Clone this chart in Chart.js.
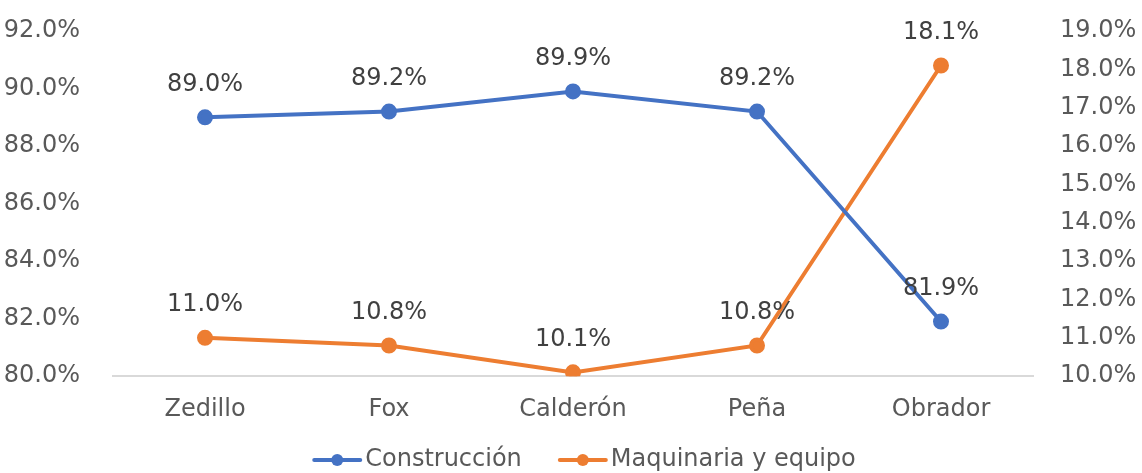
<!DOCTYPE html>
<html>
<head>
<meta charset="utf-8">
<script src="https://cdn.jsdelivr.net/npm/chart.js@4/dist/chart.umd.min.js"></script>
<style>
    body { margin: 0; background: #ffffff; }
    #contenedor { width: 1142px; height: 473px; }
</style>
</head>
<body>
<div id="contenedor">
    <canvas id="grafica" width="1142" height="473"></canvas>
</div>
<script>
const categorias = ['Zedillo', 'Fox', 'Calderón', 'Peña', 'Obrador'];
const construccion = [89.0, 89.2, 89.9, 89.2, 81.9];
const maquinaria = [11.0, 10.8, 10.1, 10.8, 18.1];

const azul = '#4472c4';
const naranja = '#ed7d31';
const fuente = 'DejaVu Sans';
const tam = 24;

Chart.defaults.font.family = fuente;
Chart.defaults.font.size = tam;

// etiquetas de datos arriba de cada punto
const etiquetas = {
    id: 'etiquetas',
    afterDatasetsDraw(chart) {
        const ctx = chart.ctx;
        ctx.save();
        ctx.font = tam + 'px "' + fuente + '"';
        ctx.fillStyle = '#404040';
        ctx.textAlign = 'center';
        ctx.textBaseline = 'middle';
        chart.data.datasets.forEach((ds, i) => {
            chart.getDatasetMeta(i).data.forEach((p, j) => {
                ctx.fillText(ds.data[j].toFixed(1) + '%', p.x, p.y - 33);
            });
        });
        ctx.restore();
    }
};

// leyenda tipo excel: linea con circulo + texto
const leyenda = {
    id: 'leyenda',
    afterDraw(chart) {
        const ctx = chart.ctx;
        const y = 460;
        ctx.save();
        ctx.font = tam + 'px "' + fuente + '"';
        ctx.textBaseline = 'middle';
        ctx.textAlign = 'left';

        const items = chart.data.datasets.map(ds => ({
            texto: ds.label,
            color: ds.borderColor,
            ancho: 50 + 3 + ctx.measureText(ds.label).width
        }));
        const total = items.reduce((s, it) => s + it.ancho, 0) + 36 * (items.length - 1);
        let x = 584 - total / 2;

        items.forEach(it => {
            ctx.strokeStyle = it.color;
            ctx.lineWidth = 4;
            ctx.lineCap = 'round';
            ctx.beginPath();
            ctx.moveTo(x + 2, y);
            ctx.lineTo(x + 48, y);
            ctx.stroke();
            ctx.fillStyle = it.color;
            ctx.beginPath();
            ctx.arc(x + 25, y, 6, 0, Math.PI * 2);
            ctx.fill();
            ctx.fillStyle = '#595959';
            ctx.fillText(it.texto, x + 53, y);
            x += it.ancho + 36;
        });
        ctx.restore();
    }
};

function sinRelleno(axis) {
    axis.paddingTop = 0;
    axis.paddingBottom = 0;
}

new Chart(document.getElementById('grafica'), {
    type: 'line',
    data: {
        labels: categorias,
        datasets: [{
            label: 'Construcción',
            data: construccion,
            yAxisID: 'y',
            borderColor: azul,
            backgroundColor: azul,
            borderWidth: 4,
            pointRadius: 6,
            pointStyle: 'circle',
            tension: 0
        }, {
            label: 'Maquinaria y equipo',
            data: maquinaria,
            yAxisID: 'y1',
            borderColor: naranja,
            backgroundColor: naranja,
            borderWidth: 4,
            pointRadius: 6,
            pointStyle: 'circle',
            tension: 0
        }]
    },
    options: {
        responsive: false,
        animation: false,
        layout: {
            padding: { top: 31, bottom: 30, left: 0, right: 0 }
        },
        scales: {
            x: {
                offset: true,
                grid: { display: false, drawTicks: false },
                border: { display: true, color: '#d9d9d9', width: 2 },
                ticks: {
                    color: '#595959',
                    padding: 19
                }
            },
            y: {
                position: 'left',
                min: 80,
                max: 92,
                grid: { display: false },
                border: { display: false },
                afterFit(axis) {
                    axis.width = 113;
                    sinRelleno(axis);
                },
                ticks: {
                    stepSize: 2,
                    color: '#595959',
                    padding: 25,
                    callback: v => v.toFixed(1) + '%'
                }
            },
            y1: {
                position: 'right',
                min: 10,
                max: 19,
                grid: { display: false },
                border: { display: false },
                afterFit(axis) {
                    axis.width = 109;
                    sinRelleno(axis);
                },
                ticks: {
                    stepSize: 1,
                    color: '#595959',
                    padding: 19,
                    callback: v => v.toFixed(1) + '%'
                }
            }
        },
        plugins: {
            tooltip: { enabled: false },
            legend: { display: false }
        }
    },
    plugins: [etiquetas, leyenda]
});
</script>
</body>
</html>
